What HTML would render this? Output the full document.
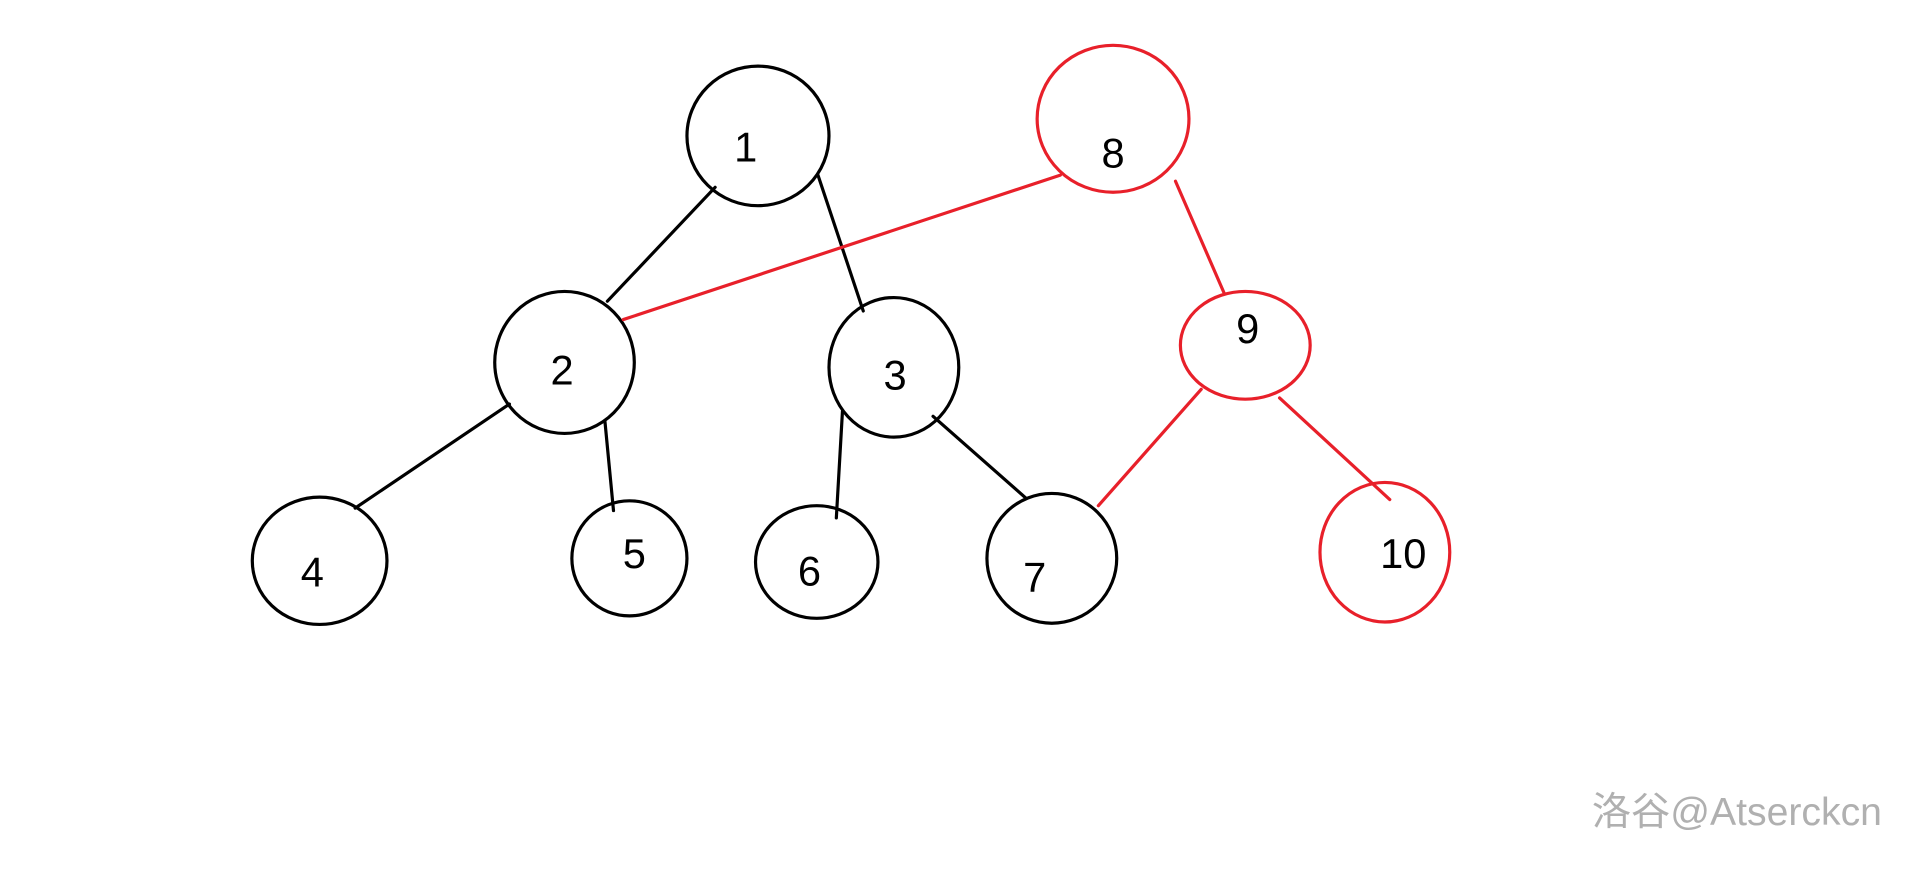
<!DOCTYPE html>
<html><head><meta charset="utf-8"><style>html,body{margin:0;padding:0;background:#fff}svg{display:block}</style></head>
<body>
<svg width="1920" height="873" viewBox="0 0 1568 713" xmlns="http://www.w3.org/2000/svg">
<rect width="1568" height="713" fill="#fff"/>
<g fill="none" stroke-width="2.6" stroke-linecap="round">
<g stroke="#000">
<ellipse cx="619" cy="111" rx="58" ry="57"/>
<ellipse cx="461" cy="296" rx="57" ry="58"/>
<ellipse cx="730" cy="300" rx="53" ry="57"/>
<ellipse cx="261" cy="458" rx="55" ry="52"/>
<ellipse cx="514" cy="456" rx="47" ry="47"/>
<ellipse cx="667" cy="459" rx="50" ry="46"/>
<ellipse cx="859" cy="456" rx="53" ry="53"/>
<line x1="584" y1="153" x2="496" y2="246"/>
<line x1="668" y1="143" x2="705" y2="254"/>
<line x1="416" y1="330" x2="290" y2="415"/>
<line x1="494" y1="344" x2="501" y2="417"/>
<line x1="688" y1="336" x2="683" y2="423"/>
<line x1="762" y1="340" x2="838" y2="407"/>
</g>
<g stroke="#e8202a">
<ellipse cx="909" cy="97" rx="62" ry="60"/>
<ellipse cx="1017" cy="282" rx="53" ry="44"/>
<ellipse cx="1131" cy="451" rx="53" ry="57"/>
<line x1="866" y1="143" x2="509" y2="261"/>
<line x1="960" y1="148" x2="1000" y2="240"/>
<line x1="981" y1="318" x2="897" y2="413"/>
<line x1="1045" y1="325" x2="1135" y2="408"/>
</g>
</g>
<g font-family="Liberation Sans, DejaVu Sans, sans-serif" font-size="34" fill="#000" text-anchor="middle">
<text x="609" y="132">1</text>
<text x="909" y="137">8</text>
<text x="459" y="314">2</text>
<text x="731" y="318">3</text>
<text x="1019" y="280">9</text>
<text x="255" y="479">4</text>
<text x="518" y="464">5</text>
<text x="661" y="478">6</text>
<text x="845" y="483">7</text>
<text x="1146" y="464">10</text>
</g>
<text x="1537" y="674" text-anchor="end" font-family="Liberation Sans, Noto Sans CJK SC, sans-serif" font-size="32" fill="#b0b0b0">洛谷@Atserckcn</text>
</svg>
</body></html>
